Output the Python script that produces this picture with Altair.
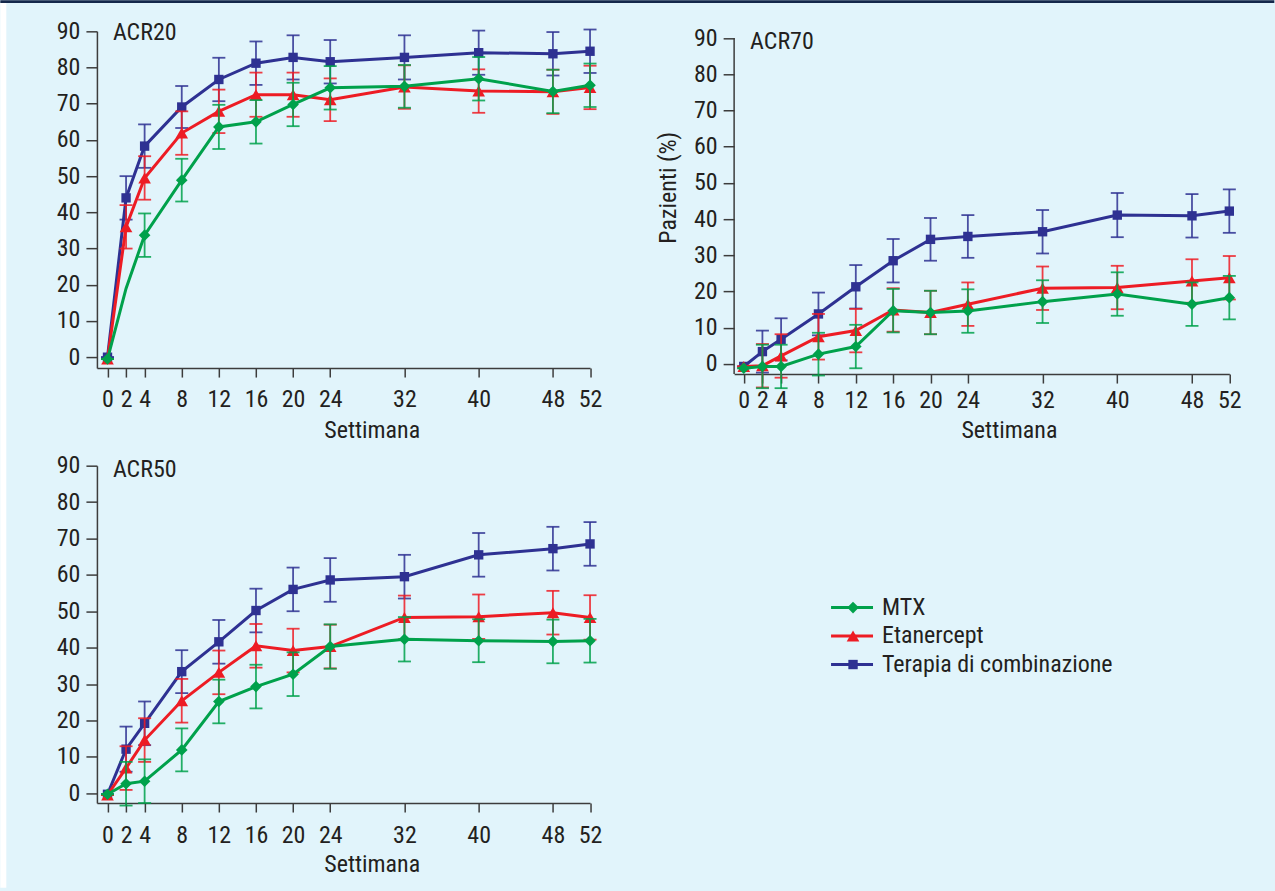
import altair as alt
import pandas as pd

FONT = "Liberation Sans Narrow, Roboto Condensed, DejaVu Sans Condensed, sans-serif"
FS = 24
TXT = "#231f20"
AXC = "#3c3c3c"
BG = "#e1f4fb"
NAVY_BAR = "#14284b"

weeks = [0, 2, 4, 8, 12, 16, 20, 24, 32, 40, 48, 52]
series_names = ["MTX", "Etanercept", "Terapia di combinazione"]
series_colors = ["#00a14b", "#ed1c24", "#2e3192"]
series_shapes = ["diamond", "triangle-up", "square"]
series_sizes = [135, 160, 88]

# ACR20
acr20_mtx = [-0.5, 19.0, 33.7, 48.9, 63.6, 65.0, 69.8, 74.4, 74.8, 76.9, 73.4, 75.1]
acr20_mtx_err = [0, None, 6.0, 5.9, 6.1, 6.0, 6.0, 6.0, 5.9, 6.0, 6.0, 6.0]
acr20_eta = [-0.5, 36.0, 49.5, 61.9, 67.9, 72.5, 72.5, 71.1, 74.6, 73.5, 73.3, 74.5]
acr20_eta_err = [0, 6.0, 6.0, 6.0, 6.0, 6.1, 6.1, 5.9, 6.0, 6.0, 6.1, 6.0]
acr20_combo = [0.0, 44.0, 58.3, 69.1, 76.7, 81.2, 82.8, 81.6, 82.8, 84.1, 83.8, 84.5]
acr20_combo_err = [0, 6.0, 6.0, 5.8, 6.0, 6.0, 6.1, 6.0, 6.1, 6.1, 6.0, 6.0]

# ACR70
acr70_mtx = [-1.2, -0.7, -0.7, 2.7, 4.8, 14.7, 14.2, 14.6, 17.2, 19.3, 16.5, 18.3]
acr70_mtx_err = [0, 6.0, 6.0, 5.9, 6.0, 6.0, 6.0, 6.0, 5.9, 6.0, 6.0, 6.0]
acr70_eta = [-0.7, -0.5, 2.2, 7.5, 9.2, 14.9, 14.2, 16.5, 20.9, 21.1, 22.9, 23.8]
acr70_eta_err = [0, 6.0, 6.0, 6.3, 6.0, 6.0, 6.0, 6.0, 6.0, 6.0, 6.0, 6.0]
acr70_combo = [-0.7, 3.4, 6.8, 13.8, 21.3, 28.5, 34.4, 35.2, 36.5, 41.1, 40.9, 42.2]
acr70_combo_err = [0, 5.8, 5.8, 5.9, 6.0, 6.0, 5.9, 5.9, 6.0, 6.1, 6.0, 6.0]

# ACR50
acr50_mtx = [-0.3, 2.6, 3.3, 11.9, 25.2, 29.3, 32.7, 40.3, 42.3, 41.9, 41.7, 41.9]
acr50_mtx_err = [0, 6.0, 6.0, 5.9, 6.0, 6.0, 6.0, 6.1, 6.1, 5.9, 6.0, 6.0]
acr50_eta = [-0.5, 6.9, 14.6, 25.4, 33.2, 40.5, 39.2, 40.3, 48.3, 48.5, 49.6, 48.3]
acr50_eta_err = [0, 6.0, 6.0, 6.0, 6.0, 6.0, 6.0, 6.0, 6.0, 6.1, 6.0, 6.1]
acr50_combo = [-0.3, 12.1, 19.2, 33.4, 41.6, 50.2, 56.0, 58.6, 59.5, 65.5, 67.2, 68.5]
acr50_combo_err = [0, 6.2, 6.0, 5.9, 6.0, 6.0, 6.0, 6.0, 6.0, 6.0, 6.0, 6.0]


def series_df(vals, errs):
    rows = []
    for w, v, e in zip(weeks, vals, errs):
        rows.append({
            "week": w, "value": v, "err": e,
            "lo": (v - e) if e is not None else None,
            "hi": (v + e) if e is not None else None,
        })
    return pd.DataFrame(rows)


def panel(label, series_vals, xmin, ymin, ymax, width, height, xlab_pad, title_y,
          label_y=9, ytitle=None, ytitle_x=None, ytitle_y=None, extra=None, ydomain=True):
    xaxis = alt.Axis(values=weeks, title="Settimana", titleX=275, titleY=title_y,
                     titleBaseline="alphabetic", labelPadding=xlab_pad, tickSize=9,
                     labelFlush=False, labelOverlap=False)
    xdef = alt.X("week:Q", scale=alt.Scale(domain=[xmin, 52], nice=False, zero=False), axis=xaxis)
    yaxis_kw = dict(values=list(range(0, 91, 10)), tickSize=11, labelPadding=6,
                    labelBaseline="middle", domain=ydomain)
    if ytitle:
        yaxis_kw.update(title=ytitle, titleX=ytitle_x, titleY=ytitle_y,
                        titleBaseline="middle", titleAngle=270)
    else:
        yaxis_kw.update(title=None)
    yaxis = alt.Axis(**yaxis_kw)
    yscale = alt.Scale(domain=[ymin, ymax], nice=False, zero=False)

    def ydef(field):
        return alt.Y(field, scale=yscale, axis=yaxis)

    layers = list(extra) if extra else []
    if not ydomain:
        # y axis line drawn from the 90 tick down to the x axis
        layers.append(
            alt.Chart(pd.DataFrame({"top": [90], "bottom": [ymin]})).mark_rule(
                color=AXC, strokeWidth=1.5
            ).encode(x=alt.value(0), y=ydef("top:Q"), y2="bottom:Q")
        )
    for idx in [2, 1, 0]:
        vals, errs = series_vals[idx]
        df = series_df(vals, errs)
        c = series_colors[idx]
        base = alt.Chart(df)
        valid = base.transform_filter("isValid(datum.err)")
        layers.append(
            valid.mark_errorbar(ticks={"size": 13}, color=c, thickness=1.8, opacity=0.85)
            .encode(x=xdef, y=ydef("lo:Q"), y2="hi:Q")
        )
        layers.append(
            base.mark_line(color=c, strokeWidth=3).encode(x=xdef, y=ydef("value:Q"))
        )
        layers.append(
            valid.mark_point(filled=True, shape=series_shapes[idx], size=series_sizes[idx],
                             color=c, opacity=1).encode(x=xdef, y=ydef("value:Q"))
        )
    layers.append(
        alt.Chart(pd.DataFrame({"t": [label]})).mark_text(
            align="left", baseline="alphabetic", fontSize=FS, font=FONT, color=TXT
        ).encode(text="t:N", x=alt.value(16), y=alt.value(label_y))
    )
    return alt.layer(*layers).properties(width=width, height=height)


# top bar and white left strip (decoration drawn outside the first panel)
one = pd.DataFrame({"k": [0]})
decor = [
    alt.Chart(one).mark_rect(color=NAVY_BAR).encode(
        x=alt.value(-96.7), x2=alt.value(1178.3), y=alt.value(-31), y2=alt.value(-28.4)),
    alt.Chart(one).mark_rect(color="#ffffff").encode(
        x=alt.value(-96.7), x2=alt.value(-90.7), y=alt.value(-28.4), y2=alt.value(857)),
]

acr20 = panel("ACR20",
              [(acr20_mtx, acr20_mtx_err), (acr20_eta, acr20_eta_err), (acr20_combo, acr20_combo_err)],
              -1.14, -3.0, 90, 493.5, 337, 10.5, 69, label_y=9, extra=decor)
acr70 = panel("ACR70",
              [(acr70_mtx, acr70_mtx_err), (acr70_eta, acr70_eta_err), (acr70_combo, acr70_combo_err)],
              -1.03, -2.8, 91.85, 495.6, 343, 5.3, 63, label_y=18,
              ytitle="Pazienti (%)", ytitle_x=-66, ytitle_y=156, ydomain=False)
acr50 = panel("ACR50",
              [(acr50_mtx, acr50_mtx_err), (acr50_eta, acr50_eta_err), (acr50_combo, acr50_combo_err)],
              -1.14, -2.7, 90, 493.5, 337.6, 11.6, 69, label_y=11)

# legend
leg_y = alt.Y("series:N", scale=alt.Scale(type="point", domain=series_names, range=[142, 199], padding=0),
              axis=None)
leg_layers = []
for idx, name in enumerate(series_names):
    ldf = pd.DataFrame({"series": [name]})
    c = series_colors[idx]
    lb = alt.Chart(ldf)
    leg_layers.append(lb.mark_rule(color=c, strokeWidth=3).encode(
        x=alt.value(97), x2=alt.value(139), y=leg_y))
    leg_layers.append(lb.mark_point(filled=True, shape=series_shapes[idx], size=series_sizes[idx],
                                    color=c, opacity=1).encode(x=alt.value(119), y=leg_y))
    leg_layers.append(lb.mark_text(align="left", baseline="middle", fontSize=FS, font=FONT,
                                   color=TXT).encode(x=alt.value(148), y=leg_y, text="series:N"))
legend = alt.layer(*leg_layers).properties(width=400, height=300)

chart = alt.concat(
    acr20, acr70, acr50, legend, columns=2,
    spacing={"row": 91.7, "column": 143.7}, bounds="flush",
).properties(
    padding={"left": 0, "top": 0, "right": 0, "bottom": 4},
    background=BG,
).configure_view(stroke=None).configure_axis(
    labelFont=FONT, titleFont=FONT, labelFontSize=FS, titleFontSize=FS,
    labelColor=TXT, titleColor=TXT, domainColor=AXC, tickColor=AXC,
    domainWidth=1.5, tickWidth=1.5, grid=False, titleFontWeight="normal",
)

chart.save("out.html", embed_options={"renderer": "svg", "actions": False})
